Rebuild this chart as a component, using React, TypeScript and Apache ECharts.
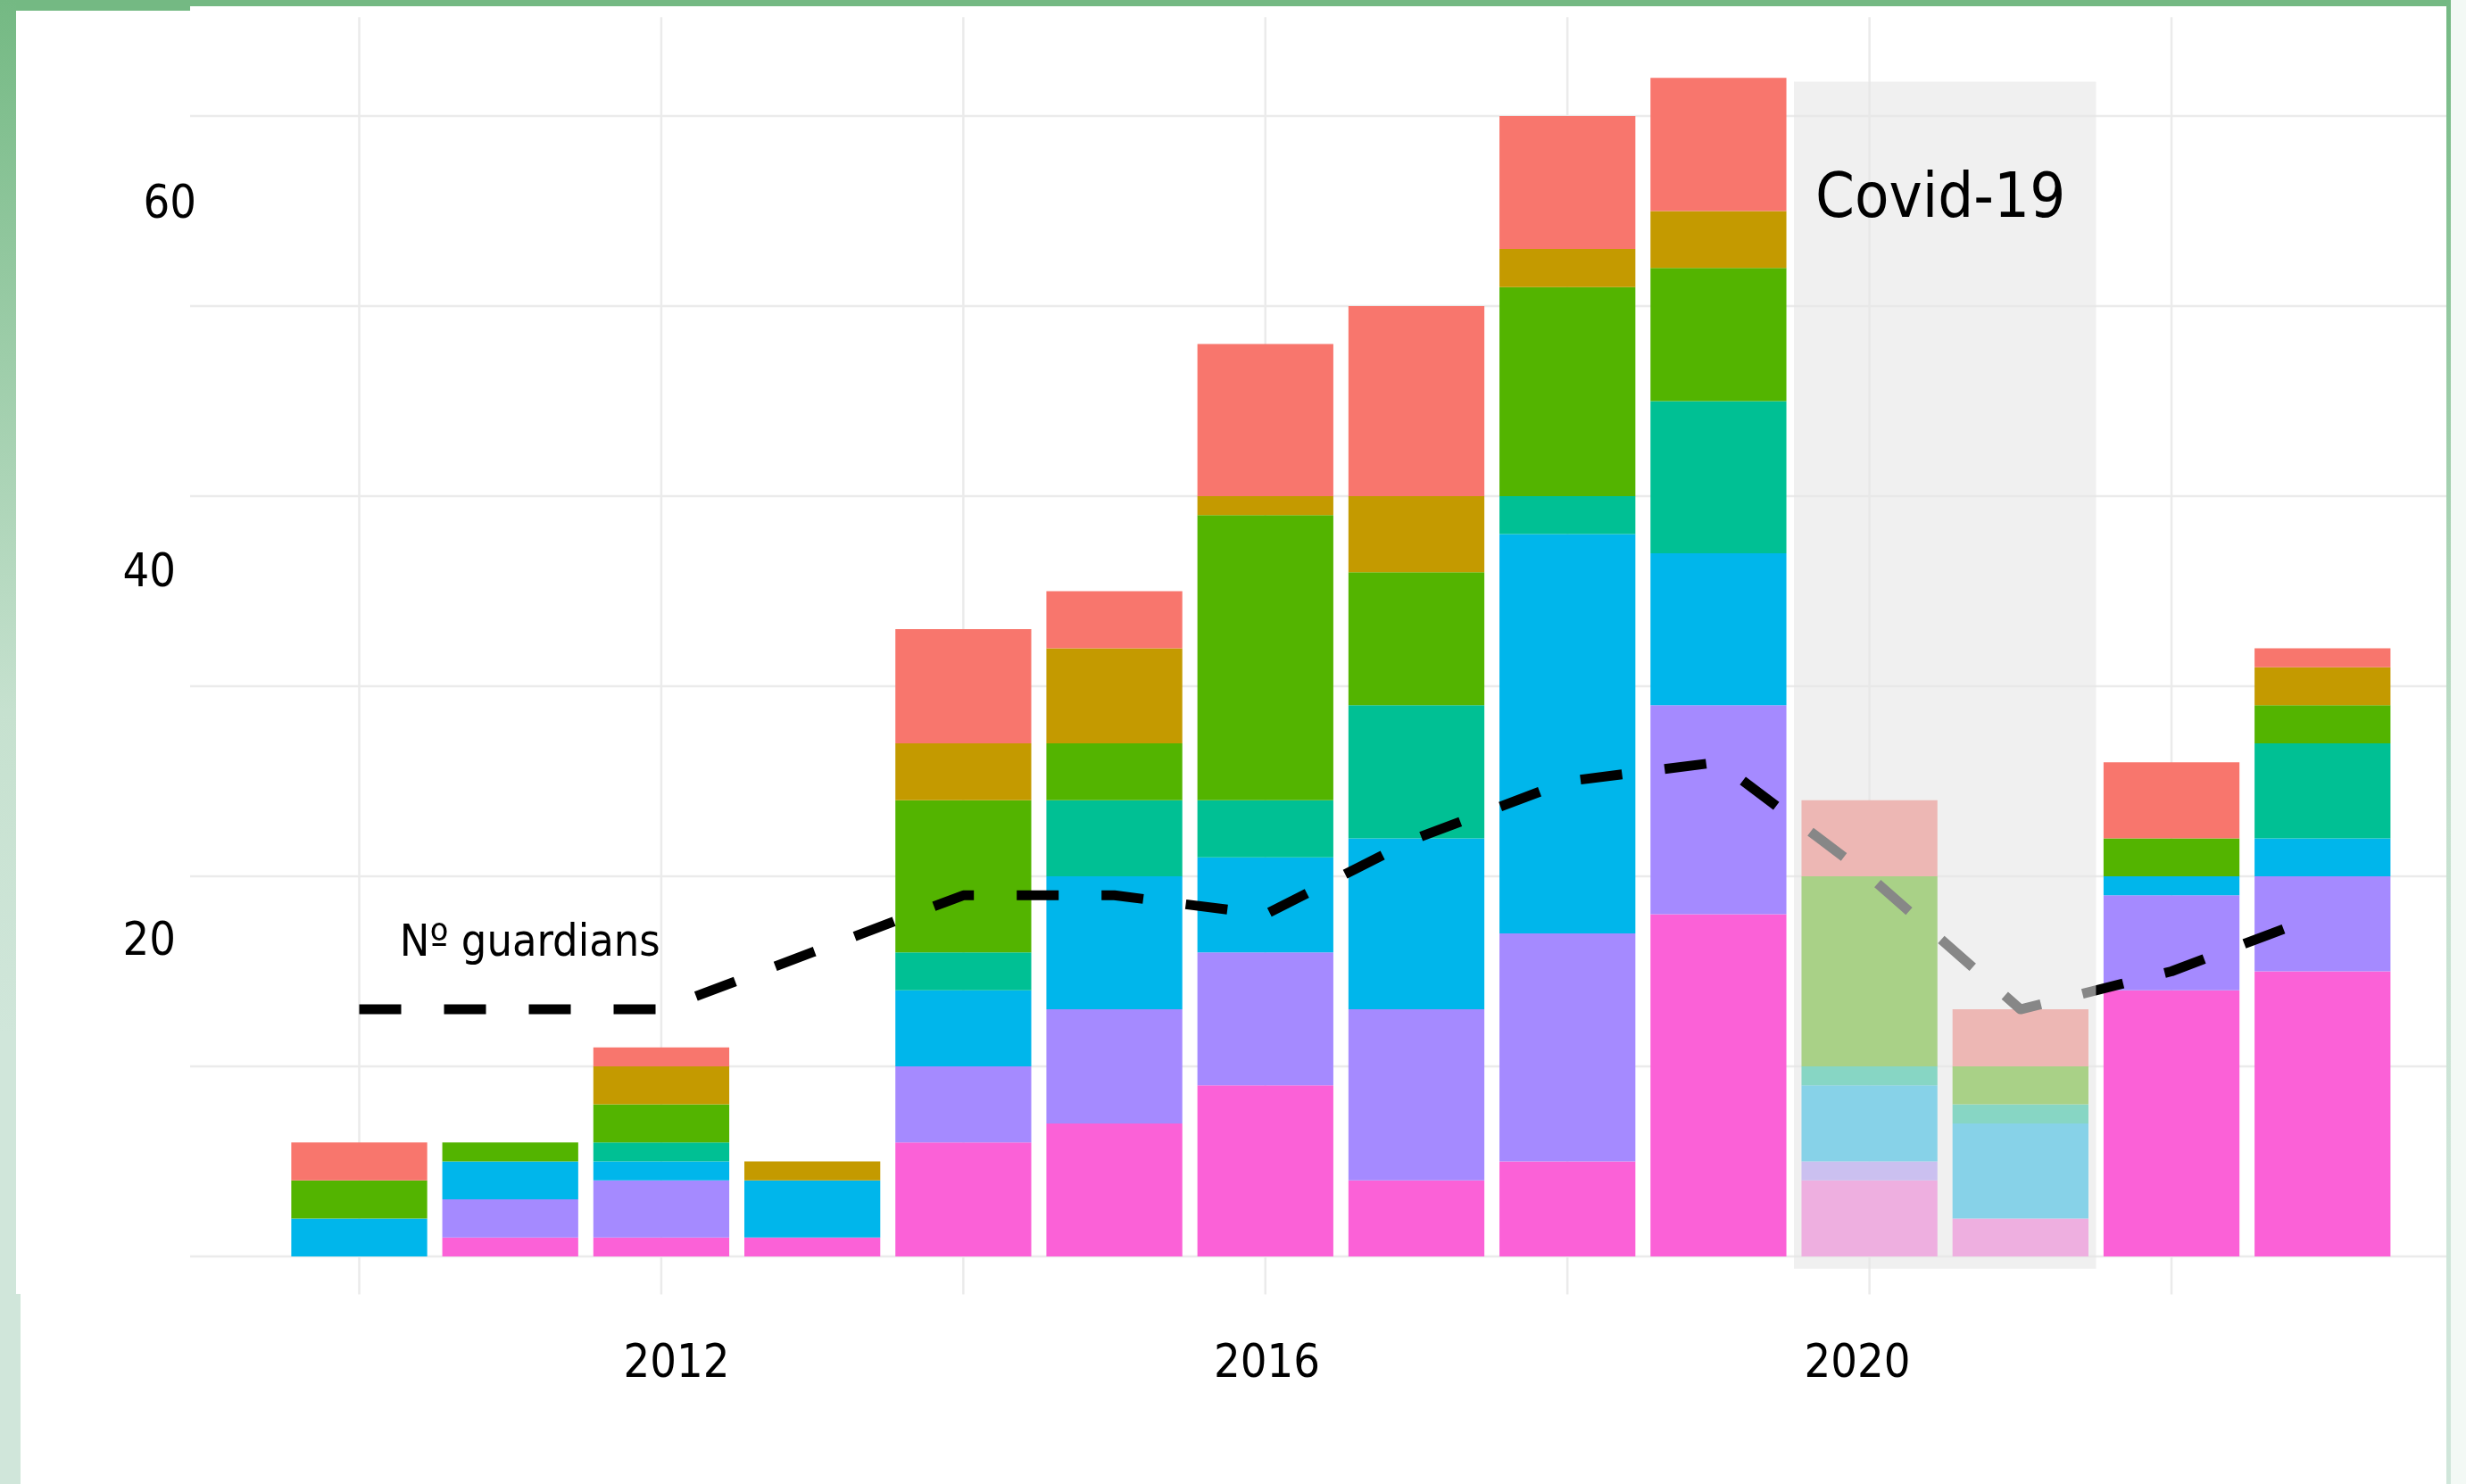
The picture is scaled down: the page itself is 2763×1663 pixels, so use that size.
import React, { useEffect, useRef } from "react";
import * as echarts from "echarts";

// ---------- data ----------
const years = [2010, 2011, 2012, 2013, 2014, 2015, 2016, 2017, 2018, 2019, 2020, 2021, 2022, 2023];

// stacked from bottom to top
const groupPink = [0, 1, 1, 1, 6, 7, 9, 4, 5, 18, 4, 2, 14, 15];
const groupPurple = [0, 2, 3, 0, 4, 6, 7, 9, 12, 11, 1, 0, 5, 5];
const groupBlue = [2, 2, 1, 3, 4, 7, 5, 9, 21, 8, 4, 5, 1, 2];
const groupTeal = [0, 0, 1, 0, 2, 4, 3, 7, 2, 8, 1, 1, 0, 5];
const groupGreen = [2, 1, 2, 0, 8, 3, 15, 7, 11, 7, 10, 2, 2, 2];
const groupGold = [0, 0, 2, 1, 3, 5, 1, 4, 2, 3, 0, 0, 0, 2];
const groupRed = [2, 0, 1, 0, 6, 3, 8, 10, 7, 7, 4, 3, 4, 1];

const guardians = [13, 13, 13, 16, 19, 19, 18, 22, 25, 26, 20, 13, 15, 18];

const xTickLabels = [2012, 2016, 2020];
const yTickLabels = [20, 40, 60];
const gridYears = [2010, 2012, 2014, 2016, 2018, 2020, 2022];
const gridValues = [0, 10, 20, 30, 40, 50, 60];

const covidSpan = [2019.5, 2021.5, -0.65, 61.8];
const annotationTexts = ["Nº guardians", "Covid-19"];
const annotationAnchors = [
  [2011.13, 16.64],
  [2020.47, 55.8],
];

// ---------- styles ----------
const groupNames = ["Group 1", "Group 2", "Group 3", "Group 4", "Group 5", "Group 6", "Group 7"];
const groupColors = ["#FB61D7", "#A58AFF", "#00B6EB", "#00C094", "#53B400", "#C49A00", "#F8766D"];
const groupValues = [groupPink, groupPurple, groupBlue, groupTeal, groupGreen, groupGold, groupRed];
const annotationSizes = [50, 70];

const FONT = "'DejaVu Sans Condensed', 'DejaVu Sans', sans-serif";
const X_MIN = 2008.88;
const X_MAX = 2023.82;
const Y_MIN = -2;
const Y_MAX = 65.2;
const W = 2763;
const H = 1663;

// panel geometry (pixels)
const PANEL_LEFT = 213;
const PANEL_RIGHT_EDGE = 2741;
const PANEL_TOP = 19.2;
const PANEL_BOTTOM_EDGE = 1450.6;
const PX_PER_YEAR = (PANEL_RIGHT_EDGE - PANEL_LEFT) / (X_MAX - X_MIN);
const BAR_LEFT = PANEL_LEFT + (years[0] - 0.5 - X_MIN) * PX_PER_YEAR;
const BAR_WIDTH_ALL = years.length * PX_PER_YEAR;

export default function App() {
  const ref = useRef<HTMLDivElement>(null);

  useEffect(() => {
    if (!ref.current) return;
    const chart = echarts.init(ref.current, null, { renderer: "svg" });

    const barSeries = groupValues.map((vals, gi) => ({
      name: groupNames[gi],
      type: "bar",
      stack: "total",
      xAxisIndex: 2,
      yAxisIndex: 2,
      barWidth: "90%",
      z: 2,
      itemStyle: { color: groupColors[gi] },
      data: vals,
    }));

    const stripGradient = () =>
      new echarts.graphic.LinearGradient(0, 0, 0, 1, [
        { offset: 0, color: "#74B983" },
        { offset: 0.55, color: "#C6E1CF" },
        { offset: 0.8, color: "#D0E6DA" },
        { offset: 1, color: "#D0E6DA" },
      ]);

    const hiddenValueAxis = (gridIndex: number, min: number, max: number) => ({
      type: "value",
      gridIndex,
      min,
      max,
      axisLine: { show: false },
      axisTick: { show: false },
      axisLabel: { show: false },
      splitLine: { show: false },
    });

    const option: any = {
      animation: false,
      backgroundColor: "#ffffff",
      grid: [
        {
          left: PANEL_LEFT,
          right: W - PANEL_RIGHT_EDGE,
          top: PANEL_TOP,
          bottom: H - PANEL_BOTTOM_EDGE,
          containLabel: false,
        },
        { left: 758, right: W - 2081, top: 226, bottom: H - 1465, containLabel: false },
        {
          left: BAR_LEFT,
          right: W - (BAR_LEFT + BAR_WIDTH_ALL),
          top: PANEL_TOP,
          bottom: H - PANEL_BOTTOM_EDGE,
          containLabel: false,
        },
      ],
      xAxis: [
        hiddenValueAxis(0, X_MIN, X_MAX),
        {
          type: "value",
          gridIndex: 1,
          min: xTickLabels[0],
          max: xTickLabels[xTickLabels.length - 1],
          interval: 4,
          axisLine: { show: false },
          axisTick: { show: false },
          splitLine: { show: false },
          axisLabel: {
            show: true,
            color: "#000",
            fontSize: 52,
            fontFamily: FONT,
            margin: 60,
            verticalAlign: "middle",
            formatter: (v: number) => (xTickLabels.includes(v) ? String(v) : ""),
          },
        },
        {
          type: "category",
          gridIndex: 2,
          data: years.map(String),
          boundaryGap: true,
          axisLine: { show: false },
          axisTick: { show: false },
          axisLabel: { show: false },
          splitLine: { show: false },
        },
      ],
      yAxis: [
        hiddenValueAxis(0, Y_MIN, Y_MAX),
        {
          type: "value",
          gridIndex: 1,
          min: 0,
          max: 60,
          interval: 20,
          offset: 758 - 220,
          axisLine: { show: false },
          axisTick: { show: false },
          splitLine: { show: false },
          axisLabel: {
            show: true,
            showMinLabel: false,
            margin: 0,
            color: "#000",
            fontSize: 52,
            fontFamily: FONT,
            formatter: (v: number) =>
              yTickLabels.includes(v) ? (v === 60 ? `{a|${v}}` : `{b|${v}}`) : "",
            rich: {
              a: { fontSize: 52, fontFamily: FONT, color: "#000" },
              b: { fontSize: 52, fontFamily: FONT, color: "#000", padding: [0, 23, 0, 0] },
            },
          },
        },
        hiddenValueAxis(2, Y_MIN, Y_MAX),
      ],
      series: [
        {
          type: "custom",
          name: "hgrid",
          silent: true,
          z: 0,
          xAxisIndex: 0,
          yAxisIndex: 0,
          encode: { x: 0, y: 1 },
          data: gridValues.map((v) => [X_MIN, v]),
          renderItem: (params: any, api: any) => {
            const cs = params.coordSys;
            const y = api.coord([X_MIN, api.value(1)])[1];
            return {
              type: "line",
              shape: { x1: cs.x, y1: y, x2: cs.x + cs.width, y2: y },
              style: { stroke: "#ebebeb", lineWidth: 2.5 },
            };
          },
        },
        {
          type: "custom",
          name: "vgrid",
          silent: true,
          z: 0,
          xAxisIndex: 0,
          yAxisIndex: 0,
          encode: { x: 0, y: 1 },
          data: gridYears.map((yr) => [yr, Y_MIN]),
          renderItem: (params: any, api: any) => {
            const cs = params.coordSys;
            const x = api.coord([api.value(0), Y_MIN])[0];
            return {
              type: "line",
              shape: { x1: x, y1: cs.y, x2: x, y2: cs.y + cs.height },
              style: { stroke: "#ebebeb", lineWidth: 2.5 },
            };
          },
        },
        ...barSeries,
        {
          name: "Nº guardians",
          type: "line",
          xAxisIndex: 2,
          yAxisIndex: 2,
          z: 3,
          symbol: "none",
          smooth: false,
          lineStyle: { color: "#000", width: 11, type: [47, 48], cap: "butt", join: "round" },
          data: guardians,
        },
        {
          type: "custom",
          name: "covid",
          silent: true,
          z: 5,
          xAxisIndex: 0,
          yAxisIndex: 0,
          encode: { x: [0, 1], y: [2, 3] },
          data: [covidSpan],
          renderItem: (params: any, api: any) => {
            const p0 = api.coord([api.value(0), api.value(3)]);
            const p1 = api.coord([api.value(1), api.value(2)]);
            return {
              type: "rect",
              shape: { x: p0[0], y: p0[1], width: p1[0] - p0[0], height: p1[1] - p0[1] },
              style: { fill: "#e5e5e5", opacity: 0.59 },
            };
          },
        },
        {
          type: "custom",
          name: "annotations",
          silent: true,
          z: 6,
          xAxisIndex: 0,
          yAxisIndex: 0,
          encode: { x: 0, y: 1 },
          data: annotationAnchors,
          renderItem: (params: any, api: any) => {
            const p = api.coord([api.value(0), api.value(1)]);
            return {
              type: "text",
              x: p[0],
              y: p[1],
              style: {
                text: annotationTexts[params.dataIndex],
                fill: "#000",
                fontSize: annotationSizes[params.dataIndex],
                fontFamily: FONT,
                align: "center",
                verticalAlign: "middle",
              },
            };
          },
        },
      ],
      graphic: [
        { type: "rect", silent: true, z: 100, shape: { x: 0, y: 0, width: 2746, height: 7 }, style: { fill: "#74B983" } },
        { type: "rect", silent: true, z: 100, shape: { x: 18, y: 7, width: 195, height: 5 }, style: { fill: "#74B983" } },
        {
          type: "rect",
          silent: true,
          z: 100,
          shape: { x: 0, y: 0, width: 18, height: 1450 },
          style: { fill: stripGradient() },
        },
        {
          type: "rect",
          silent: true,
          z: 100,
          shape: { x: 0, y: 1450, width: 23, height: H - 1450 },
          style: { fill: "#D0E6DA" },
        },
        {
          type: "rect",
          silent: true,
          z: 100,
          shape: { x: 2741, y: 0, width: 5, height: H },
          style: { fill: stripGradient() },
        },
        {
          type: "rect",
          silent: true,
          z: 100,
          shape: { x: 2746, y: 0, width: W - 2746, height: H },
          style: { fill: "#f3f9f5" },
        },
      ],
    };

    chart.setOption(option);
    return () => chart.dispose();
  }, []);

  return (
    <div
      ref={ref}
      style={{ position: "absolute", left: 0, top: 0, width: W, height: H, background: "#ffffff" }}
    />
  );
}
